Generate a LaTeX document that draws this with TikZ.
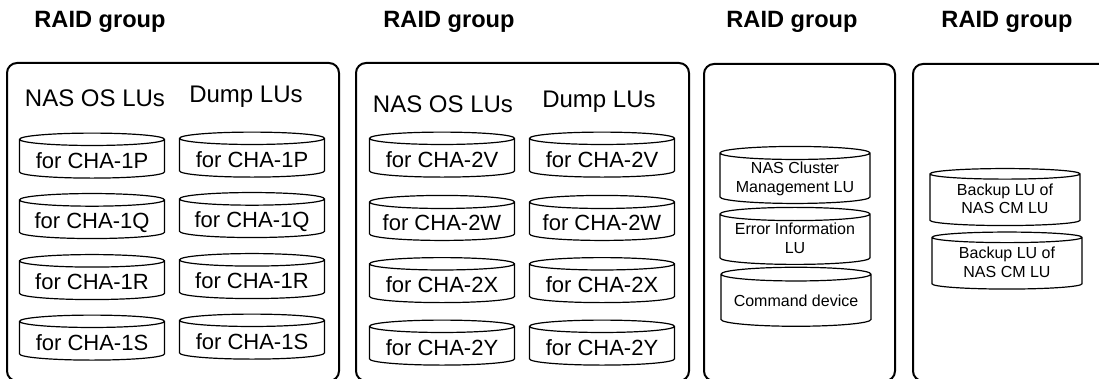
\documentclass[tikz,border=0pt]{standalone}
\usepackage{fontspec}
\setmainfont{Liberation Sans}
\usetikzlibrary{shapes.geometric,positioning}

\tikzset{
  raid/.style={draw,line width=1pt,rounded corners=5pt},
  title/.style={font=\bfseries\fontsize{11.8}{14}\selectfont},
  head/.style={font=\fontsize{12}{14}\selectfont,anchor=base},
  lu/.style={cylinder,shape border rotate=90,draw,line width=0.6pt,aspect=0.11,
    minimum width=72.5pt,minimum height=22.5pt,inner sep=0pt,
    text height=9.5pt,text depth=-1.5pt,font=\fontsize{11}{13}\selectfont},
  smalllu/.style={lu,minimum width=75pt,minimum height=28.5pt,align=center,
    text height=13.55pt,text depth=-5.55pt,font=\fontsize{8}{9.2}\selectfont}
}

\begin{document}
\begin{tikzpicture}[x=0.5pt,y=-0.5pt]
  \clip (0,0) rectangle (1099,379);

  % RAID groups
  \draw[raid] (7,63) rectangle (339,381);
  \draw[raid] (356,63) rectangle (689,381);
  \draw[raid] (704,64) rectangle (895,381);
  \draw[raid] (913,64) rectangle (1130,381);

  \node[title] (t1) at (100,22) {RAID group};
  \node[title] (t2) at (449,22) {RAID group};
  \node[title] (t3) at (792,22) {RAID group};
  \node[title] (t4) at (1007,22) {RAID group};

  % first group
  \node[head] (os1) at (95,107) {NAS OS LUs};
  \node[head] (dump1) at (246,103) {Dump LUs};
  \foreach \n/\y in {P/159,Q/219.5,R/280.5,S/341} {
    \node[lu] (os1\n) at (92,\y) {for CHA-1\n};
    \node[lu] (dump1\n) at (252,\y-1) {for CHA-1\n};
  }

  % second group
  \node[head] (os2) at (443,113) {NAS OS LUs};
  \node[head] (dump2) at (599,108) {Dump LUs};
  \foreach \n/\y in {V/158,W/221.5,X/283.5,Y/346} {
    \node[lu] (os2\n) at (442,\y) {for CHA-2\n};
    \node[lu] (dump2\n) at (602,\y) {for CHA-2\n};
  }

  % third group
  \node[smalllu] (cm) at (795,178.5) {NAS Cluster\\Management LU};
  \node[smalllu] (err) at (795,239.5) {Error Information\\LU};
  \node[smalllu,minimum height=29.5pt,text height=6.4pt,text depth=-2.4pt] (cmd) at (796,300.5) {Command device};

  % fourth group
  \node[smalllu] (bk1) at (1005,200) {Backup LU of\\NAS CM LU};
  \node[smalllu] (bk2) at (1007,263.5) {Backup LU of\\NAS CM LU};
\end{tikzpicture}
\end{document}
